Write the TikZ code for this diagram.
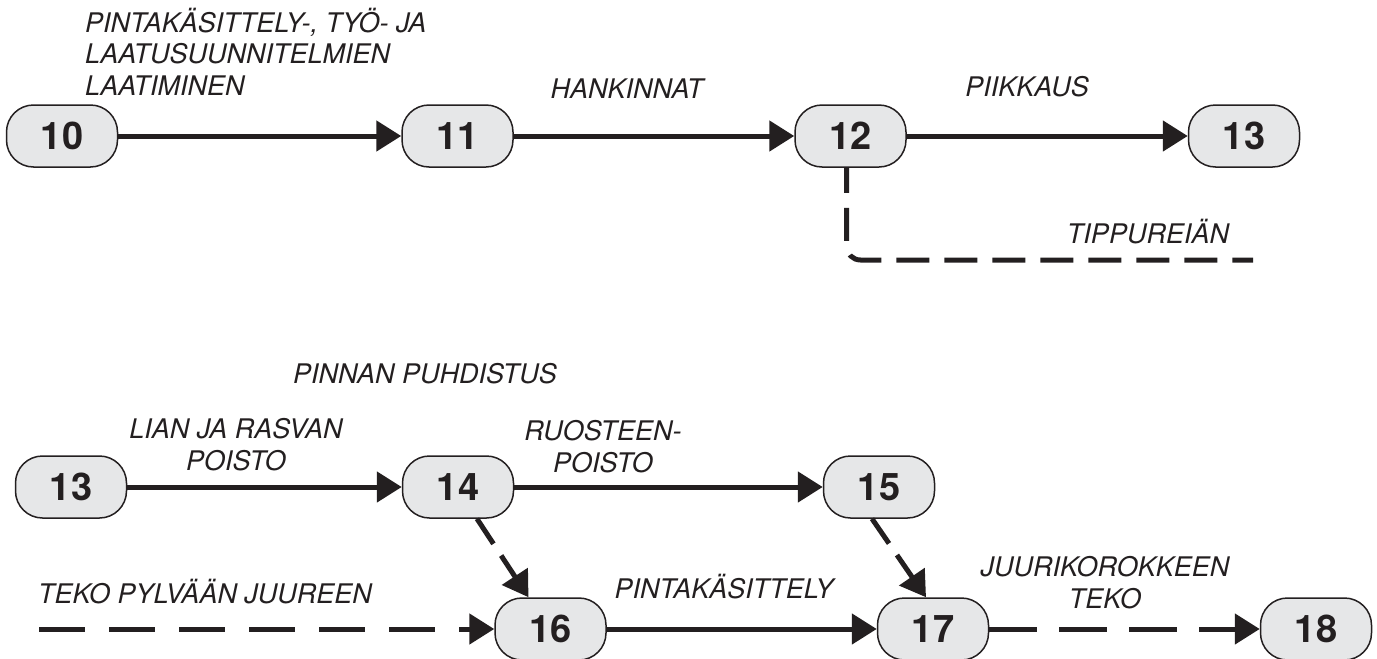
\documentclass[tikz,border=0pt]{standalone}
\usepackage{fontspec}
\setmainfont{TeX Gyre Heros}
\usetikzlibrary{arrows.meta}
\definecolor{ink}{HTML}{231F20}
\definecolor{nodefill}{HTML}{E6E7E8}
\begin{document}
\begin{tikzpicture}[x=1pt,y=-1pt,
  ev/.style={draw=ink, line width=1.5pt, fill=nodefill, rounded corners=27pt,
    minimum width=111pt, minimum height=62pt, inner sep=0pt,
    font=\fontsize{38}{40}\selectfont\bfseries, text=ink},
  lab/.style={inner sep=0pt, font=\fontsize{27}{31.5}\selectfont\itshape, text=ink},
  act/.style={draw=ink, line width=5pt, -{Triangle[length=25pt,width=30pt]}},
  dum/.style={act, dash pattern=on 46pt off 24pt},
  diag/.style={act, dash pattern=on 30pt off 14pt},
]
\useasboundingbox (0,0) rectangle (1377,659);

% top row
\node[ev] (n10) at (62,136) {10};
\node[ev] (n11) at (457.5,136) {11};
\node[ev] (n12) at (850.5,136) {12};
\node[ev] (n13t) at (1244,136) {13};

\draw[act] (n10) -- (n11);
\draw[act] (n11) -- (n12);
\draw[act] (n12) -- (n13t);
\coordinate (tipend) at (1253,260);
\draw[draw=ink, line width=5pt, dash pattern=on 33pt off 15pt, dash phase=8pt,
  rounded corners=14pt] ([xshift=-4pt]n12.south) |- (tipend);

\node[lab, anchor=base west, align=left] (lt) at (85,95)
  {PINTAKÄSITTELY-, TYÖ- JA\\LAATUSUUNNITELMIEN\\LAATIMINEN};
\node[lab, anchor=base] (lh) at (627,98) {HANKINNAT};
\node[lab, anchor=base] (lp) at (1027,96) {PIIKKAUS};
\node[lab, anchor=base] (ltip) at (1148,243) {TIPPUREIÄN};

% bottom part
\node[ev] (n13b) at (71,487) {13};
\node[ev] (n14) at (458,487) {14};
\node[ev] (n15) at (879,487) {15};
\node[ev] (n16) at (550.5,629) {16};
\node[ev] (n17) at (933,629) {17};
\node[ev] (n18) at (1316,629) {18};

\draw[act] (n13b) -- (n14);
\draw[act] (n14) -- (n15);
\draw[diag] ([xshift=19pt]n14.south) -- ([xshift=-22pt]n16.north);
\draw[diag] ([xshift=-7pt]n15.south) -- ([xshift=-7pt]n17.north);
\coordinate (dstart) at (39,629);
\draw[dum] (dstart) -- (n16);
\draw[act] (n16) -- (n17);
\draw[act, dash pattern=on 48pt off 22pt] (n17) -- (n18);

\node[lab, anchor=base] (lpp) at (425,383) {PINNAN PUHDISTUS};
\node[lab, anchor=base, align=center] (lli) at (236,470) {LIAN JA RASVAN\\POISTO};
\node[lab, anchor=base, align=center] (lru) at (603,472) {RUOSTEEN-\\POISTO};
\node[lab, anchor=base] (lpk) at (724,598) {PINTAKÄSITTELY};
\node[lab, anchor=base] (lteko) at (205,603) {TEKO PYLVÄÄN JUUREEN};
\node[lab, anchor=base, align=center] (lju) at (1105,608) {JUURIKOROKKEEN\\TEKO};
\end{tikzpicture}
\end{document}
